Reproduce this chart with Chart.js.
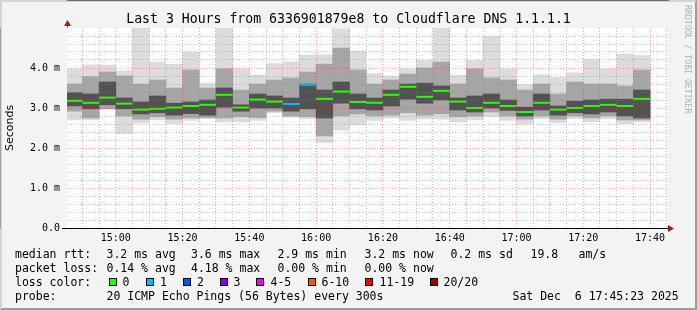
<!DOCTYPE html>
<html>
<head>
<meta charset="utf-8">
<script src="https://cdn.jsdelivr.net/npm/chart.js@4.4.1/dist/chart.umd.min.js"></script>
<style>
body { margin: 0; background: #fff; }
#wrap { position: relative; width: 697px; height: 310px; background: #f3f3f3; overflow: hidden;
        font-family: 'DejaVu Sans Mono', monospace; color: #000; }
#frame { position: absolute; left: 0; top: 0; width: 697px; height: 310px; box-sizing: border-box;
         border-top: 2px solid #d4d4d4; border-left: 2px solid #d4d4d4;
         border-right: 2px solid #9c9c9c; border-bottom: 2px solid #9c9c9c; }
#chart { position: absolute; left: 0; top: 0; }
#title { position: absolute; left: 0; top: 11px; width: 697px; text-align: center;
         font-size: 13.2px; line-height: 16px; white-space: pre; }
#mark { position: absolute; left: 683px; top: 5px; writing-mode: vertical-rl;
        font-size: 8.2px; line-height: 10px; color: #b0b0b0; white-space: pre; }
.t { position: absolute; white-space: pre; font-size: 11.5px; line-height: 14px; }
.box { position: absolute; width: 8px; height: 8px; box-sizing: border-box; border: 1px solid #000; }
</style>
</head>
<body>
<div id="wrap">
  <div id="frame"></div>
  <canvas id="chart" width="697" height="310"></canvas>
  <div id="title">Last 3 Hours from 6336901879e8 to Cloudflare DNS 1.1.1.1</div>
  <div id="mark">RRDTOOL / TOBI OETIKER</div>

  <span class="t" style="left:15px;top:247px">median rtt:</span>
  <span class="t" style="left:106.5px;top:247px">3.2 ms avg</span>
  <span class="t" style="left:191px;top:247px">3.6 ms max</span>
  <span class="t" style="left:277.5px;top:247px">2.9 ms min</span>
  <span class="t" style="left:364.5px;top:247px">3.2 ms now</span>
  <span class="t" style="left:450.5px;top:247px">0.2 ms sd</span>
  <span class="t" style="left:530.5px;top:247px">19.8</span>
  <span class="t" style="left:578.5px;top:247px">am/s</span>

  <span class="t" style="left:15px;top:261px">packet loss:</span>
  <span class="t" style="left:106.5px;top:261px">0.14 % avg</span>
  <span class="t" style="left:191px;top:261px">4.18 % max</span>
  <span class="t" style="left:277.5px;top:261px">0.00 % min</span>
  <span class="t" style="left:364.5px;top:261px">0.00 % now</span>

  <span class="t" style="left:15px;top:275px">loss color:</span>
  <div id="lossLegend"></div>

  <span class="t" style="left:15px;top:288.5px">probe:</span>
  <span class="t" style="left:106.5px;top:288.5px">20 ICMP Echo Pings (56 Bytes) every 300s</span>
  <span class="t" style="left:512.5px;top:288.5px">Sat Dec  6 17:45:23 2025</span>
</div>

<script>
// 5-minute rounds, labelled by the end of each round
const barEnds = ['14:50', '14:55', '15:00', '15:05', '15:10', '15:15', '15:20', '15:25', '15:30', '15:35',
                 '15:40', '15:45', '15:50', '15:55', '16:00', '16:05', '16:10', '16:15', '16:20', '16:25',
                 '16:30', '16:35', '16:40', '16:45', '16:50', '16:55', '17:00', '17:05', '17:10', '17:15',
                 '17:20', '17:25', '17:30', '17:35', '17:40'];

// median rtt (ms)
const median = [3.18, 3.13, 3.26, 3.11, 2.96, 2.98, 3.01, 3.05, 3.08, 3.33,
                3.01, 3.21, 3.16, 3.10, 3.58, 3.23, 3.41, 3.15, 3.13, 3.33,
                3.53, 3.28, 3.43, 3.16, 3.00, 3.13, 3.05, 2.90, 3.13, 2.96,
                3.00, 3.05, 3.08, 3.05, 3.23];

// lost pings out of 20
const lossCount = [0, 0, 0, 0, 0, 0, 0, 0, 0, 0,
                   0, 0, 0, 1, 1, 0, 0, 0, 0, 0,
                   0, 0, 0, 0, 0, 0, 0, 0, 0, 0,
                   0, 0, 0, 0, 0];

// smoke: outer (min..max), middle and inner bands of the 20 pings (ms)
const pingMax = [3.98, 4.08, 4.07, 3.92, 5.30, 4.15, 4.09, 4.40, 3.61, 5.30,
                 3.98, 3.82, 4.11, 4.15, 4.32, 4.33, 4.98, 4.42, 3.86, 3.79,
                 3.98, 4.19, 5.30, 3.82, 4.19, 4.79, 3.98, 3.59, 3.83, 3.76,
                 3.88, 4.21, 3.98, 4.34, 4.31];
const pingMin = [2.70, 2.70, 2.97, 2.36, 2.62, 2.70, 2.61, 2.69, 2.73, 2.65,
                 2.65, 2.69, 2.88, 2.77, 2.73, 2.14, 2.45, 2.58, 2.69, 2.75,
                 2.69, 2.73, 2.72, 2.66, 2.70, 2.79, 2.69, 2.60, 2.73, 2.63,
                 2.73, 2.66, 2.73, 2.61, 2.66];
const midHi = [3.60, 3.78, 3.90, 3.80, 3.60, 3.70, 3.50, 3.95, 3.50, 3.98,
               3.45, 3.60, 3.70, 3.75, 3.90, 4.10, 4.50, 3.95, 3.60, 3.70,
               3.85, 4.00, 4.15, 3.60, 3.98, 3.75, 3.70, 3.45, 3.60, 3.35,
               3.65, 3.60, 3.60, 3.55, 3.95];
const midLo = [2.92, 2.75, 2.98, 2.80, 2.72, 2.78, 2.72, 2.75, 2.76, 2.75,
               2.78, 2.76, 2.92, 2.80, 2.78, 2.30, 2.80, 2.85, 2.80, 2.82,
               2.88, 2.82, 2.85, 2.78, 2.80, 2.90, 2.80, 2.72, 2.80, 2.72,
               2.80, 2.75, 2.80, 2.70, 2.70];
const innerHi = [3.38, 3.35, 3.65, 3.25, 3.15, 3.30, 3.12, 3.15, 3.20, 3.50,
                 3.08, 3.35, 3.30, 3.25, 3.60, 3.45, 3.65, 3.35, 3.25, 3.45,
                 3.60, 3.62, 3.55, 3.25, 3.30, 3.35, 3.20, 3.02, 3.35, 3.05,
                 3.17, 3.20, 3.22, 3.22, 3.45];
const innerLo = [3.05, 2.98, 3.08, 2.98, 2.85, 2.88, 2.82, 2.86, 2.82, 3.02,
                 2.92, 3.00, 3.00, 2.92, 2.98, 2.75, 3.12, 2.98, 2.95, 3.05,
                 3.22, 3.12, 3.20, 2.95, 2.90, 3.00, 2.94, 2.80, 2.95, 2.82,
                 2.88, 2.85, 2.90, 2.80, 2.75];

// loss colour legend
const lossLabels = ['0', '1', '2', '3', '4-5', '6-10', '11-19', '20/20'];
const lossFrom   = [0, 1, 2, 3, 4, 6, 11, 20];
const lossColors = ['#26ff00', '#00b8ff', '#0059ff', '#7e00ff', '#ee00ff', '#ff5500', '#ff0000', '#a10000'];

const toMin = s => { const [h, m] = s.split(':').map(Number); return h * 60 + m; };
const fmt = v => String(Math.floor(v / 60)).padStart(2, '0') + ':' + String(v % 60).padStart(2, '0');
const xMin = toMin('14:45') + 23 / 60;
const xMax = toMin('17:45') + 23 / 60;

const lossColor = n => {
    let c = lossColors[0];
    lossFrom.forEach((f, i) => { if (n >= f) c = lossColors[i]; });
    return c;
};

// legend boxes
const boxX = [108.5, 145.5, 182.5, 219.5, 256, 307.5, 365, 430];
const labX = [122.5, 160, 197, 233.5, 270.5, 321.5, 379.5, 443.5];
const legendEl = document.getElementById('lossLegend');
lossLabels.forEach((lab, i) => {
    const b = document.createElement('div');
    b.className = 'box';
    b.style.left = boxX[i] + 'px';
    b.style.top = '278px';
    b.style.background = lossColors[i];
    legendEl.appendChild(b);
    const t = document.createElement('span');
    t.className = 't';
    t.style.left = labX[i] + 'px';
    t.style.top = '275px';
    t.textContent = lab;
    legendEl.appendChild(t);
});

const centers = barEnds.map(s => toMin(s) - 2.5);
const band = (lo, hi) => centers.map((x, i) => ({ x: x, y: [lo[i], hi[i]] }));

const medianPts = [];
barEnds.forEach((s, i) => {
    medianPts.push({ x: toMin(s) - 5, y: median[i] });
    medianPts.push({ x: toMin(s), y: median[i] });
    medianPts.push({ x: toMin(s), y: null });
});

const xTicks = [];
for (let v = toMin('14:50'); v <= xMax; v += 5) xTicks.push({ value: v });
const yTicks = [];
for (let i = 0; i < 25; i++) yTicks.push({ value: Math.round(i * 2) / 10 });

const RED = 'rgba(255,0,0,0.38)';
const GREY = 'rgba(128,128,128,0.5)';
const isMajorY = v => Math.abs(v - Math.round(v)) < 1e-6;

const barBase = {
    type: 'bar', grouped: false, barPercentage: 1, categoryPercentage: 1,
    borderWidth: 0, clip: 0
};

const plotDecor = {
    id: 'plotDecor',
    beforeDraw(chart) {
        const { ctx, chartArea: a } = chart;
        ctx.save();
        ctx.fillStyle = '#ffffff';
        ctx.fillRect(a.left, a.top, a.right - a.left, a.bottom - a.top);
        ctx.restore();
    },
    afterDraw(chart) {
        const { ctx, chartArea: a } = chart;
        ctx.save();
        // y axis extension + arrow
        ctx.strokeStyle = '#707070';
        ctx.lineWidth = 1;
        ctx.beginPath();
        ctx.moveTo(a.left + 0.5, a.top);
        ctx.lineTo(a.left + 0.5, a.top - 3);
        ctx.stroke();
        ctx.fillStyle = '#9a1c1c';
        ctx.beginPath();
        ctx.moveTo(a.left - 3, a.top - 2);
        ctx.lineTo(a.left + 4, a.top - 2);
        ctx.lineTo(a.left + 0.5, a.top - 8);
        ctx.closePath();
        ctx.fill();
        // x axis line + arrow
        ctx.strokeStyle = '#000';
        ctx.beginPath();
        ctx.moveTo(a.left - 5, a.bottom + 0.5);
        ctx.lineTo(a.right + 1, a.bottom + 0.5);
        ctx.stroke();
        ctx.fillStyle = '#9a1c1c';
        ctx.beginPath();
        ctx.moveTo(a.right, a.bottom - 3);
        ctx.lineTo(a.right, a.bottom + 4);
        ctx.lineTo(a.right + 6, a.bottom + 0.5);
        ctx.closePath();
        ctx.fill();
        ctx.restore();
    }
};

Chart.defaults.font.family = "'DejaVu Sans Mono', monospace";

new Chart(document.getElementById('chart').getContext('2d'), {
    type: 'bar',
    data: {
        datasets: [
            {
                type: 'line', data: medianPts, borderWidth: 2, pointRadius: 0,
                spanGaps: false, clip: 0, order: 1, borderColor: lossColors[0],
                borderCapStyle: 'butt',
                segment: { borderColor: c => lossColor(lossCount[Math.floor(c.p0DataIndex / 3)]) }
            },
            Object.assign({ data: band(innerLo, innerHi), backgroundColor: '#525252', order: 2 }, barBase),
            Object.assign({ data: band(midLo, midHi), backgroundColor: '#a6a6a6', order: 3 }, barBase),
            Object.assign({ data: band(pingMin, pingMax), backgroundColor: '#dcdcdc', order: 4 }, barBase)
        ]
    },
    options: {
        responsive: false,
        animation: false,
        devicePixelRatio: 1,
        layout: { padding: { top: 28, right: 29, left: 0, bottom: 0 } },
        plugins: { legend: { display: false }, tooltip: { enabled: false }, title: { display: false } },
        scales: {
            x: {
                type: 'linear', min: xMin, max: xMax, offset: false,
                afterBuildTicks: s => { s.ticks = xTicks.slice(); },
                afterFit: s => { s.height = 82; },
                grid: {
                    offset: false, drawTicks: false, z: 1, lineWidth: 1,
                    color: c => (c.tick && c.tick.value % 20 === 0) ? RED : GREY
                },
                border: { display: true, color: '#000', dash: [1, 2] },
                ticks: {
                    autoSkip: false, maxRotation: 0, padding: 4, color: '#000',
                    font: { size: 10 },
                    callback: v => v % 20 === 0 ? fmt(v) : ''
                }
            },
            y: {
                type: 'linear', min: 0, max: 5,
                afterBuildTicks: s => { s.ticks = yTicks.slice(); },
                afterFit: s => { s.width = 67; },
                grid: {
                    drawTicks: false, z: 1, lineWidth: 1,
                    color: c => (c.tick && isMajorY(c.tick.value)) ? RED : GREY
                },
                border: { display: true, color: '#707070', dash: [1, 2] },
                ticks: {
                    autoSkip: false, padding: 7, color: '#000', font: { size: 10 },
                    callback: v => !isMajorY(v) ? '' : (v === 0 ? '0.0' : v.toFixed(1) + ' m')
                },
                title: {
                    display: true, text: 'Seconds', color: '#000',
                    font: { family: "'DejaVu Sans', sans-serif", size: 11 },
                    padding: { top: 3.4, bottom: 0 }
                }
            }
        }
    },
    plugins: [plotDecor]
});
</script>
</body>
</html>
